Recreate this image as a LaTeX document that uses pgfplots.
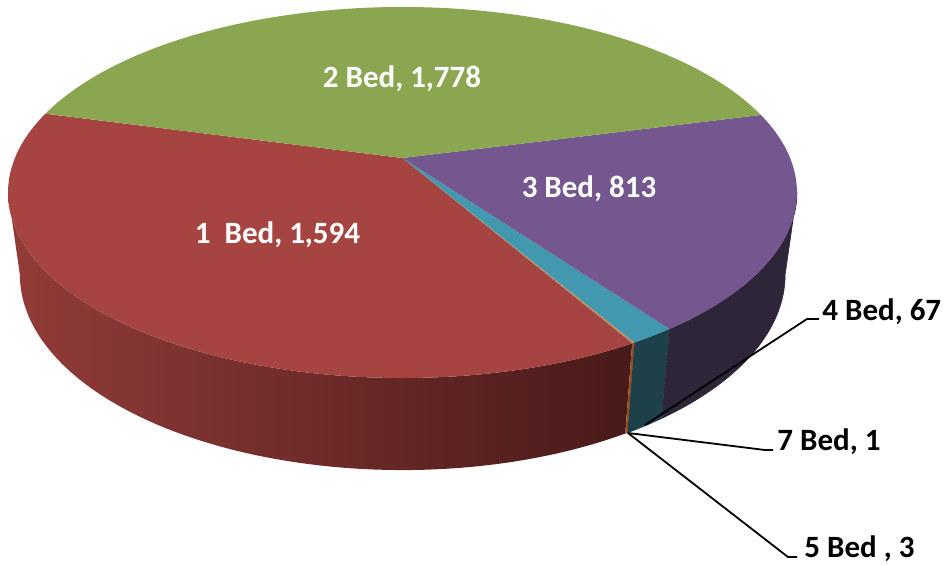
\documentclass[border=0pt]{standalone}
\usepackage{pgfplots}
\pgfplotsset{compat=1.18}
\usepackage{pgfplotstable}
\usepackage{fontspec}
\setmainfont{Carlito}
\definecolor{redtop}{RGB}{166,68,65}
\definecolor{greentop}{RGB}{139,166,80}
\definecolor{purpletop}{RGB}{115,87,142}
\definecolor{tealtop}{RGB}{66,152,175}
\definecolor{orangetop}{RGB}{232,136,58}
\definecolor{bluetop}{RGB}{60,90,140}
\definecolor{redwallL}{RGB}{146,60,57}
\definecolor{redwallR}{RGB}{72,26,25}
\definecolor{tealwall}{RGB}{30,64,73}
\definecolor{purplewall}{RGB}{46,37,56}
\definecolor{orangewall}{RGB}{150,80,30}
\pgfplotstableread{
label value
1Bed 1594
2Bed 1778
3Bed 813
4Bed 67
5Bed 3
7Bed 1
}\piedata
\begin{document}
\begin{tikzpicture}
\pgfplotstablegetelem{0}{value}\of\piedata \let\vA\pgfplotsretval
\pgfplotstablegetelem{1}{value}\of\piedata \let\vB\pgfplotsretval
\pgfplotstablegetelem{2}{value}\of\piedata \let\vC\pgfplotsretval
\pgfplotstablegetelem{3}{value}\of\piedata \let\vD\pgfplotsretval
\pgfplotstablegetelem{4}{value}\of\piedata \let\vE\pgfplotsretval
\pgfplotstablegetelem{5}{value}\of\piedata \let\vF\pgfplotsretval
\pgfmathsetmacro\tot{\vA+\vB+\vC+\vD+\vE+\vF}
\pgfmathsetmacro\sc{360/\tot}
\pgfmathsetmacro\Bz{299.8}
\pgfmathsetmacro\aG{\Bz+\sc*\vF}
\pgfmathsetmacro\aE{\aG+\sc*\vE}
\pgfmathsetmacro\aD{\aE+\sc*\vD}
\pgfmathsetmacro\aC{\aD+\sc*\vC}
\pgfmathsetmacro\aB{\aC+\sc*\vB}
\pgfmathsetmacro\aA{\Bz-\sc*\vA}
\begin{axis}[
  width=475bp, height=282.5bp, scale only axis,
  xmin=0, xmax=950, ymin=0, ymax=565,
  hide axis, clip=false,
  declare function={
    px(\t)=402.5+387.6*cos(\t)/(1+0.186*sin(\t));
    py(\t)=407+179.1*sin(\t)/(1+0.186*sin(\t));
    bx(\t)=402.5+0.97*387.6*cos(\t)/(1+0.186*sin(\t));
    by(\t)=407+(0.97*179.1*sin(\t)-80.3)/(1+0.186*sin(\t));
    wt(\s,\p,\q)=ifthenelse(\s<1,\p+min(\s/0.95,1)*(\q-\p),\q-max((\s-1.05)/0.95,0)*(\q-\p));
    wx(\s,\p,\q)=ifthenelse(\s<1,px(wt(\s,\p,\q)),bx(wt(\s,\p,\q)));
    wy(\s,\p,\q)=ifthenelse(\s<1,py(wt(\s,\p,\q)),by(wt(\s,\p,\q)));
  },
  every axis plot/.append style={draw=none},
]
% side walls (front, visible part)
\addplot[left color=redwallL, right color=redwallR, domain=0:2, samples=161, variable=\s] ({wx(\s,190.72,\Bz)},{wy(\s,190.72,\Bz)});
\addplot[fill=orangewall, draw=orangewall, line width=0.3bp, domain=0:2, samples=41, variable=\s] ({wx(\s,\Bz,\aE)},{wy(\s,\Bz,\aE)});
\addplot[fill=tealwall, draw=tealwall, line width=0.3bp, domain=0:2, samples=41, variable=\s] ({wx(\s,\aE,\aD)},{wy(\s,\aE,\aD)});
\addplot[fill=purplewall, draw=purplewall, line width=0.3bp, domain=0:2, samples=121, variable=\s] ({wx(\s,\aD,349.28)},{wy(\s,\aD,349.28)});
% top faces
\addplot[fill=redtop, domain=\aA:\Bz, samples=90, variable=\t] ({px(\t)},{py(\t)}) -- (axis cs:402.5,407) -- cycle;
\addplot[fill=bluetop, domain=\Bz:\aG, samples=3, variable=\t] ({px(\t)},{py(\t)}) -- (axis cs:402.5,407) -- cycle;
\addplot[fill=orangetop, domain=\aG:\aE, samples=3, variable=\t] ({px(\t)},{py(\t)}) -- (axis cs:402.5,407) -- cycle;
\addplot[fill=tealtop, domain=\aE:\aD, samples=8, variable=\t] ({px(\t)},{py(\t)}) -- (axis cs:402.5,407) -- cycle;
\addplot[fill=purpletop, domain=\aD:\aC, samples=60, variable=\t] ({px(\t)},{py(\t)}) -- (axis cs:402.5,407) -- cycle;
\addplot[fill=greentop, domain=\aC:\aB, samples=100, variable=\t] ({px(\t)},{py(\t)}) -- (axis cs:402.5,407) -- cycle;
% leader lines
\addplot[draw=black, line width=0.9bp] coordinates {(645,140) (807,246) (819,246)};
\addplot[draw=black, line width=0.9bp] coordinates {(628,132) (765,115) (773,115)};
\addplot[draw=black, line width=0.9bp] coordinates {(628,132) (788,8) (797,8)};
% labels
\begin{scope}[every node/.style={font=\fontsize{15.5bp}{18bp}\selectfont\bfseries, inner sep=0pt}]
\node[white, anchor=base] at (axis cs:402,477) {2 Bed, 1,778};
\node[white, anchor=base] at (axis cs:589,367) {3 Bed, 813};
\node[white, anchor=base] at (axis cs:277.5,321) {1\ \ Bed, 1,594};
\node[black, anchor=base west] at (axis cs:822,245) {4 Bed, 67};
\node[black, anchor=base west] at (axis cs:777,115) {7 Bed, 1};
\node[black, anchor=base west] at (axis cs:804,8) {5 Bed , 3};
\end{scope}
\end{axis}
\pgfresetboundingbox
\path[use as bounding box] (current axis.south west) rectangle (current axis.north east);
\end{tikzpicture}
\end{document}
